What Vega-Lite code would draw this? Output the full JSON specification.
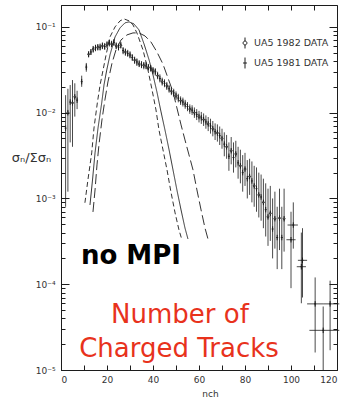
{
  "$schema": "https://vega.github.io/schema/vega-lite/v6.json",
  "width": 276,
  "height": 365,
  "autosize": "none",
  "padding": {"left": 61, "top": 5, "right": 9, "bottom": 31},
  "background": "white",
  "config": {
    "view": {"stroke": "#1c1c1c", "strokeWidth": 1},
    "axis": {
      "domainColor": "#1c1c1c",
      "tickColor": "#1c1c1c",
      "labelColor": "#333333",
      "labelFont": "DejaVu Sans",
      "labelFontSize": 9,
      "titleFont": "DejaVu Sans",
      "titleColor": "#333333",
      "titleFontWeight": "normal",
      "grid": false
    }
  },
  "datasets": {
    "curves": [
      {"curve": "a", "n": 10.4, "v": 0.00089}, {"curve": "a", "n": 11.7, "v": 0.00164}, {"curve": "a", "n": 13.35, "v": 0.0034},
      {"curve": "a", "n": 14.35, "v": 0.00664}, {"curve": "a", "n": 15.8, "v": 0.013}, {"curve": "a", "n": 17.0, "v": 0.0211},
      {"curve": "a", "n": 18.3, "v": 0.0315}, {"curve": "a", "n": 19.6, "v": 0.0472}, {"curve": "a", "n": 21.3, "v": 0.0764},
      {"curve": "a", "n": 23.5, "v": 0.1}, {"curve": "a", "n": 25.65, "v": 0.1175}, {"curve": "a", "n": 27.4, "v": 0.124},
      {"curve": "a", "n": 29.6, "v": 0.1175}, {"curve": "a", "n": 31.3, "v": 0.1055}, {"curve": "a", "n": 33.0, "v": 0.0851},
      {"curve": "a", "n": 35.65, "v": 0.0539}, {"curve": "a", "n": 37.8, "v": 0.0315}, {"curve": "a", "n": 39.6, "v": 0.0184},
      {"curve": "a", "n": 41.3, "v": 0.01076}, {"curve": "a", "n": 42.6, "v": 0.00629}, {"curve": "a", "n": 44.35, "v": 0.00368},
      {"curve": "a", "n": 46.1, "v": 0.00215}, {"curve": "a", "n": 47.8, "v": 0.00119}, {"curve": "a", "n": 49.6, "v": 0.000678},
      {"curve": "a", "n": 51.3, "v": 0.000429}, {"curve": "a", "n": 52.6, "v": 0.000328},
      {"curve": "b", "n": 12.6, "v": 0.00084}, {"curve": "b", "n": 13.7, "v": 0.00164}, {"curve": "b", "n": 14.8, "v": 0.0034},
      {"curve": "b", "n": 16.1, "v": 0.00664}, {"curve": "b", "n": 17.7, "v": 0.013}, {"curve": "b", "n": 18.7, "v": 0.0211},
      {"curve": "b", "n": 19.9, "v": 0.0315}, {"curve": "b", "n": 21.3, "v": 0.0472}, {"curve": "b", "n": 23.5, "v": 0.0764},
      {"curve": "b", "n": 25.65, "v": 0.0973}, {"curve": "b", "n": 27.8, "v": 0.1114}, {"curve": "b", "n": 29.6, "v": 0.1144},
      {"curve": "b", "n": 31.7, "v": 0.1084}, {"curve": "b", "n": 33.9, "v": 0.0923}, {"curve": "b", "n": 36.1, "v": 0.0633},
      {"curve": "b", "n": 38.3, "v": 0.0412}, {"curve": "b", "n": 40.0, "v": 0.0276}, {"curve": "b", "n": 41.7, "v": 0.01746},
      {"curve": "b", "n": 43.5, "v": 0.0102}, {"curve": "b", "n": 45.2, "v": 0.00629}, {"curve": "b", "n": 47.0, "v": 0.00368},
      {"curve": "b", "n": 48.7, "v": 0.00215}, {"curve": "b", "n": 50.4, "v": 0.001256}, {"curve": "b", "n": 52.2, "v": 0.000734},
      {"curve": "b", "n": 53.9, "v": 0.000453}, {"curve": "b", "n": 55.2, "v": 0.000337},
      {"curve": "c", "n": 13.9, "v": 0.000696}, {"curve": "c", "n": 14.8, "v": 0.001256}, {"curve": "c", "n": 15.65, "v": 0.00246},
      {"curve": "c", "n": 16.5, "v": 0.00421}, {"curve": "c", "n": 17.8, "v": 0.00823}, {"curve": "c", "n": 19.1, "v": 0.0141},
      {"curve": "c", "n": 20.4, "v": 0.0228}, {"curve": "c", "n": 22.2, "v": 0.038}, {"curve": "c", "n": 23.9, "v": 0.0539},
      {"curve": "c", "n": 26.1, "v": 0.0705}, {"curve": "c", "n": 28.7, "v": 0.0807}, {"curve": "c", "n": 31.3, "v": 0.0851},
      {"curve": "c", "n": 33.9, "v": 0.0851}, {"curve": "c", "n": 36.5, "v": 0.0785}, {"curve": "c", "n": 39.1, "v": 0.0668},
      {"curve": "c", "n": 41.7, "v": 0.0511}, {"curve": "c", "n": 44.3, "v": 0.037}, {"curve": "c", "n": 46.5, "v": 0.0254},
      {"curve": "c", "n": 48.7, "v": 0.01746}, {"curve": "c", "n": 50.4, "v": 0.01136}, {"curve": "c", "n": 52.2, "v": 0.0072},
      {"curve": "c", "n": 53.9, "v": 0.00481}, {"curve": "c", "n": 55.65, "v": 0.00322}, {"curve": "c", "n": 57.4, "v": 0.00215},
      {"curve": "c", "n": 59.1, "v": 0.001256}, {"curve": "c", "n": 60.9, "v": 0.000734}, {"curve": "c", "n": 62.6, "v": 0.000453},
      {"curve": "c", "n": 63.9, "v": 0.000337}
    ],
    "points": [
      {"set": "81", "n": 2, "v": 0.0066, "lo": 0.0008, "hi": 0.016},
      {"set": "82", "n": 3, "v": 0.010, "lo": 0.0012, "hi": 0.019},
      {"set": "81", "n": 4, "v": 0.0133, "lo": 0.0045, "hi": 0.021},
      {"set": "82", "n": 5, "v": 0.013, "lo": 0.004, "hi": 0.024},
      {"set": "82", "n": 6, "v": 0.0153, "lo": 0.009, "hi": 0.022},
      {"set": "81", "n": 7, "v": 0.014, "lo": 0.011, "hi": 0.018},
      {"set": "81", "n": 9, "v": 0.023, "lo": 0.020, "hi": 0.027},
      {"set": "81", "n": 11, "v": 0.034, "lo": 0.030, "hi": 0.038},
      {"set": "82", "n": 12, "v": 0.048, "lo": 0.044, "hi": 0.052},
      {"set": "81", "n": 13, "v": 0.051, "lo": 0.047, "hi": 0.055},
      {"set": "82", "n": 14, "v": 0.055, "lo": 0.050, "hi": 0.060},
      {"set": "81", "n": 15, "v": 0.057, "lo": 0.052, "hi": 0.062},
      {"set": "82", "n": 16, "v": 0.058, "lo": 0.053, "hi": 0.063},
      {"set": "81", "n": 17, "v": 0.058, "lo": 0.053, "hi": 0.064},
      {"set": "82", "n": 18, "v": 0.060, "lo": 0.055, "hi": 0.066},
      {"set": "81", "n": 19, "v": 0.059, "lo": 0.054, "hi": 0.065},
      {"set": "82", "n": 20, "v": 0.062, "lo": 0.057, "hi": 0.068},
      {"set": "81", "n": 21, "v": 0.065, "lo": 0.059, "hi": 0.071},
      {"set": "82", "n": 22, "v": 0.063, "lo": 0.058, "hi": 0.069},
      {"set": "81", "n": 23, "v": 0.066, "lo": 0.060, "hi": 0.072},
      {"set": "82", "n": 24, "v": 0.060, "lo": 0.055, "hi": 0.066},
      {"set": "81", "n": 25, "v": 0.058, "lo": 0.053, "hi": 0.064},
      {"set": "82", "n": 26, "v": 0.061, "lo": 0.056, "hi": 0.067},
      {"set": "81", "n": 27, "v": 0.053, "lo": 0.048, "hi": 0.058},
      {"set": "82", "n": 28, "v": 0.051, "lo": 0.046, "hi": 0.056},
      {"set": "81", "n": 29, "v": 0.049, "lo": 0.045, "hi": 0.054},
      {"set": "82", "n": 30, "v": 0.047, "lo": 0.043, "hi": 0.052},
      {"set": "81", "n": 31, "v": 0.044, "lo": 0.040, "hi": 0.048},
      {"set": "82", "n": 32, "v": 0.041, "lo": 0.037, "hi": 0.045},
      {"set": "81", "n": 33, "v": 0.039, "lo": 0.035, "hi": 0.043},
      {"set": "82", "n": 34, "v": 0.037, "lo": 0.034, "hi": 0.041},
      {"set": "81", "n": 35, "v": 0.036, "lo": 0.033, "hi": 0.040},
      {"set": "82", "n": 36, "v": 0.0356, "lo": 0.032, "hi": 0.039},
      {"set": "81", "n": 37, "v": 0.035, "lo": 0.032, "hi": 0.039},
      {"set": "82", "n": 38, "v": 0.0338, "lo": 0.031, "hi": 0.037},
      {"set": "81", "n": 39, "v": 0.033, "lo": 0.030, "hi": 0.036},
      {"set": "82", "n": 40, "v": 0.031, "lo": 0.028, "hi": 0.034},
      {"set": "81", "n": 41, "v": 0.030, "lo": 0.027, "hi": 0.033},
      {"set": "82", "n": 42, "v": 0.027, "lo": 0.0245, "hi": 0.030},
      {"set": "81", "n": 43, "v": 0.025, "lo": 0.0225, "hi": 0.028},
      {"set": "82", "n": 44, "v": 0.023, "lo": 0.0207, "hi": 0.0256},
      {"set": "81", "n": 45, "v": 0.022, "lo": 0.0198, "hi": 0.0245},
      {"set": "82", "n": 46, "v": 0.0205, "lo": 0.0184, "hi": 0.0228},
      {"set": "81", "n": 47, "v": 0.019, "lo": 0.0171, "hi": 0.0211},
      {"set": "82", "n": 48, "v": 0.0178, "lo": 0.016, "hi": 0.0198},
      {"set": "81", "n": 49, "v": 0.017, "lo": 0.0153, "hi": 0.019},
      {"set": "82", "n": 50, "v": 0.0158, "lo": 0.0141, "hi": 0.0177},
      {"set": "81", "n": 51, "v": 0.0148, "lo": 0.0132, "hi": 0.0166},
      {"set": "82", "n": 52, "v": 0.0138, "lo": 0.0123, "hi": 0.0155},
      {"set": "81", "n": 53, "v": 0.0133, "lo": 0.0118, "hi": 0.015},
      {"set": "82", "n": 54, "v": 0.0125, "lo": 0.0111, "hi": 0.0141},
      {"set": "81", "n": 55, "v": 0.0118, "lo": 0.0104, "hi": 0.0133},
      {"set": "82", "n": 56, "v": 0.011, "lo": 0.0097, "hi": 0.0125},
      {"set": "81", "n": 57, "v": 0.0107, "lo": 0.0094, "hi": 0.0122},
      {"set": "82", "n": 58, "v": 0.010, "lo": 0.0087, "hi": 0.0115},
      {"set": "81", "n": 59, "v": 0.0095, "lo": 0.0082, "hi": 0.011},
      {"set": "82", "n": 60, "v": 0.009, "lo": 0.0077, "hi": 0.0105},
      {"set": "81", "n": 61, "v": 0.0087, "lo": 0.0074, "hi": 0.0102},
      {"set": "82", "n": 62, "v": 0.0083, "lo": 0.007, "hi": 0.0098},
      {"set": "81", "n": 63, "v": 0.0078, "lo": 0.0065, "hi": 0.0093},
      {"set": "82", "n": 64, "v": 0.0074, "lo": 0.0061, "hi": 0.0089},
      {"set": "81", "n": 65, "v": 0.007, "lo": 0.0057, "hi": 0.0085},
      {"set": "82", "n": 66, "v": 0.0065, "lo": 0.0053, "hi": 0.008},
      {"set": "81", "n": 67, "v": 0.006, "lo": 0.0048, "hi": 0.0075},
      {"set": "82", "n": 68, "v": 0.0058, "lo": 0.0046, "hi": 0.0073},
      {"set": "81", "n": 69, "v": 0.0054, "lo": 0.0042, "hi": 0.0069},
      {"set": "82", "n": 70, "v": 0.005, "lo": 0.0038, "hi": 0.0065},
      {"set": "81", "n": 71, "v": 0.0043, "lo": 0.0031, "hi": 0.0059},
      {"set": "82", "n": 72, "v": 0.004, "lo": 0.0029, "hi": 0.0055},
      {"set": "81", "n": 73, "v": 0.0031, "lo": 0.0021, "hi": 0.0045},
      {"set": "82", "n": 74, "v": 0.0036, "lo": 0.0025, "hi": 0.0052},
      {"set": "81", "n": 75, "v": 0.003, "lo": 0.002, "hi": 0.0045},
      {"set": "82", "n": 76, "v": 0.0033, "lo": 0.0023, "hi": 0.0047},
      {"set": "81", "n": 77, "v": 0.0026, "lo": 0.0017, "hi": 0.004},
      {"set": "82", "n": 78, "v": 0.0024, "lo": 0.0015, "hi": 0.0037},
      {"set": "81", "n": 79, "v": 0.002, "lo": 0.0012, "hi": 0.0032},
      {"set": "82", "n": 80, "v": 0.0022, "lo": 0.0014, "hi": 0.0034},
      {"set": "81", "n": 81, "v": 0.0017, "lo": 0.001, "hi": 0.0028},
      {"set": "82", "n": 82, "v": 0.0018, "lo": 0.0011, "hi": 0.0029},
      {"set": "81", "n": 83, "v": 0.0016, "lo": 0.0009, "hi": 0.0027},
      {"set": "82", "n": 84, "v": 0.0014, "lo": 0.0008, "hi": 0.0024},
      {"set": "81", "n": 85, "v": 0.0013, "lo": 0.0007, "hi": 0.0023},
      {"set": "82", "n": 86, "v": 0.0011, "lo": 0.0006, "hi": 0.002},
      {"set": "81", "n": 87, "v": 0.00104, "lo": 0.00055, "hi": 0.0019},
      {"set": "82", "n": 88, "v": 0.0009, "lo": 0.00045, "hi": 0.0017},
      {"set": "81", "n": 89, "v": 0.00074, "lo": 0.00036, "hi": 0.0015},
      {"set": "82", "n": 90, "v": 0.00061, "lo": 0.00028, "hi": 0.0013},
      {"set": "82", "n": 91, "v": 0.00067, "lo": 0.00032, "hi": 0.0014},
      {"set": "81", "n": 92, "v": 0.00044, "lo": 0.0002, "hi": 0.001},
      {"set": "82", "n": 93, "v": 0.00058, "lo": 0.00026, "hi": 0.0012},
      {"set": "81", "n": 94, "v": 0.00035, "lo": 0.00015, "hi": 0.0008},
      {"set": "82", "n": 95, "v": 0.00059, "lo": 0.00025, "hi": 0.0013},
      {"set": "81", "n": 96, "v": 0.00035, "lo": 0.00015, "hi": 0.0008},
      {"set": "82", "n": 97, "v": 0.00058, "lo": 0.00024, "hi": 0.0013},
      {"set": "81", "n": 101, "v": 0.00049, "lo": 0.00026, "hi": 0.0009, "nlo": 98.5, "nhi": 103},
      {"set": "81", "n": 100, "v": 0.00033, "lo": 0.00009, "hi": 0.0007, "nlo": 98, "nhi": 102},
      {"set": "81", "n": 105, "v": 0.00019, "lo": 0.00007, "hi": 0.00045, "nlo": 103, "nhi": 107},
      {"set": "81", "n": 104.5, "v": 0.00016, "lo": 0.00006, "hi": 0.0004, "nlo": 102.5, "nhi": 106.5},
      {"set": "81", "n": 110.5, "v": 0.000059, "lo": 0.000016, "hi": 0.00012, "nlo": 107, "nhi": 114},
      {"set": "81", "n": 117, "v": 0.000059, "lo": 0.000017, "hi": 0.00011, "nlo": 114, "nhi": 121},
      {"set": "81", "n": 114, "v": 0.000029, "lo": 0.00001, "hi": 0.000055, "nlo": 108, "nhi": 121}
    ]
  },
  "layer": [
    {
      "data": {"name": "curves"},
      "mark": {"type": "line", "strokeWidth": 0.9, "color": "#1c1c1c"},
      "encoding": {
        "x": {
          "field": "n", "type": "quantitative",
          "scale": {"domain": [0, 120], "nice": false, "zero": false},
          "axis": {
            "orient": "bottom",
            "values": [0, 10, 20, 30, 40, 50, 60, 70, 80, 90, 100, 110, 120],
            "labelExpr": "datum.value % 20 == 0 ? datum.label : ''",
            "tickSize": -5,
            "labelPadding": 10,
            "labelFontSize": 9,
            "title": "nch",
            "titleFontSize": 9,
            "titleX": 149,
            "titleY": 19,
            "titleAnchor": "middle"
          }
        },
        "y": {
          "field": "v", "type": "quantitative",
          "scale": {"type": "log", "domain": [0.00001, 0.18], "nice": false},
          "axis": {
            "orient": "left",
            "values": [0.00001, 0.00002, 0.00003, 0.00004, 0.00005, 0.00006, 0.00007, 0.00008, 0.00009,
                       0.0001, 0.0002, 0.0003, 0.0004, 0.0005, 0.0006, 0.0007, 0.0008, 0.0009,
                       0.001, 0.002, 0.003, 0.004, 0.005, 0.006, 0.007, 0.008, 0.009,
                       0.01, 0.02, 0.03, 0.04, 0.05, 0.06, 0.07, 0.08, 0.09, 0.1],
            "labelExpr": "datum.value==0.1?'10⁻¹':datum.value==0.01?'10⁻²':datum.value==0.001?'10⁻³':datum.value==0.0001?'10⁻⁴':datum.value==0.00001?'10⁻⁵':''",
            "tickSize": {"condition": {"test": "datum.value==0.1||datum.value==0.01||datum.value==0.001||datum.value==0.0001||datum.value==0.00001", "value": -8}, "value": -4},
            "labelPadding": 14,
            "title": "σₙ/Σσₙ",
            "titleFontSize": 13,
            "titleAngle": 0,
            "titleAlign": "center",
            "titleBaseline": "middle",
            "titleX": -30,
            "titleY": 152
          }
        },
        "detail": {"field": "curve"},
        "strokeDash": {
          "field": "curve", "type": "nominal",
          "scale": {"domain": ["a", "b", "c"], "range": [[5, 3], [1, 0], [10, 4]]},
          "legend": null
        }
      }
    },
    {
      "data": {"name": "points"},
      "mark": {"type": "rule", "strokeWidth": 0.8, "color": "#1c1c1c"},
      "encoding": {
        "x": {
          "field": "n", "type": "quantitative",
          "axis": {
            "orient": "top", "labels": false, "domain": false, "title": null,
            "values": [0, 10, 20, 30, 40, 50, 60, 70, 80, 90, 100, 110, 120],
            "tickSize": -5
          }
        },
        "y": {
          "field": "lo", "type": "quantitative", "scale": {"type": "log"},
          "axis": {
            "orient": "right", "labels": false, "domain": false, "title": null,
            "values": [0.00001, 0.00002, 0.00003, 0.00004, 0.00005, 0.00006, 0.00007, 0.00008, 0.00009,
                       0.0001, 0.0002, 0.0003, 0.0004, 0.0005, 0.0006, 0.0007, 0.0008, 0.0009,
                       0.001, 0.002, 0.003, 0.004, 0.005, 0.006, 0.007, 0.008, 0.009,
                       0.01, 0.02, 0.03, 0.04, 0.05, 0.06, 0.07, 0.08, 0.09, 0.1],
            "tickSize": {"condition": {"test": "datum.value==0.1||datum.value==0.01||datum.value==0.001||datum.value==0.0001||datum.value==0.00001", "value": -8}, "value": -4}
          }
        },
        "y2": {"field": "hi"}
      }
    },
    {
      "data": {"name": "points"},
      "transform": [{"filter": "isValid(datum.nlo)"}],
      "mark": {"type": "rule", "strokeWidth": 0.8, "color": "#1c1c1c"},
      "encoding": {
        "x": {"field": "nlo", "type": "quantitative", "axis": null},
        "x2": {"field": "nhi"},
        "y": {"field": "v", "type": "quantitative", "scale": {"type": "log"}, "axis": null}
      }
    },
    {
      "data": {"name": "points"},
      "mark": {"type": "point", "filled": false, "size": 30, "strokeWidth": 1, "color": "#1c1c1c", "opacity": 1},
      "encoding": {
        "x": {"field": "n", "type": "quantitative", "axis": null},
        "y": {"field": "v", "type": "quantitative", "scale": {"type": "log"}, "axis": null},
        "shape": {
          "field": "set", "type": "nominal",
          "scale": {
            "domain": ["82", "81"],
            "range": [
              "M0,-1V-0.35M0,0.35V1M-0.35,0A0.35,0.35 0 1,1 0.35,0A0.35,0.35 0 1,1 -0.35,0",
              "M0,-1V1M-0.35,0H0.35"
            ]
          },
          "legend": {
            "orient": "none",
            "legendX": 178,
            "legendY": 32,
            "title": null,
            "padding": 0,
            "symbolSize": 120,
            "symbolStrokeColor": "#1c1c1c",
            "symbolFillColor": "transparent",
            "symbolStrokeWidth": 1,
            "labelFont": "DejaVu Sans",
            "labelFontSize": 9.5,
            "labelColor": "#333333",
            "labelOffset": 3,
            "rowPadding": 4,
            "labelExpr": "datum.label == '82' ? 'UA5 1982 DATA' : 'UA5 1981 DATA'"
          }
        }
      }
    },
    {
      "data": {"values": [{"label": "no MPI"}]},
      "mark": {"type": "text", "font": "DejaVu Sans", "fontWeight": "bold", "fontSize": 26, "color": "#000000", "align": "center", "baseline": "alphabetic"},
      "encoding": {
        "x": {"datum": 30.4, "type": "quantitative", "axis": null},
        "y": {"datum": 0.000172, "type": "quantitative", "scale": {"type": "log"}, "axis": null},
        "text": {"field": "label"}
      }
    },
    {
      "data": {"values": [{"label": "Number of"}]},
      "mark": {"type": "text", "font": "DejaVu Sans", "fontSize": 26, "color": "#e8321c", "align": "center", "baseline": "alphabetic"},
      "encoding": {
        "x": {"datum": 51.7, "type": "quantitative", "axis": null},
        "y": {"datum": 0.0000353, "type": "quantitative", "scale": {"type": "log"}, "axis": null},
        "text": {"field": "label"}
      }
    },
    {
      "data": {"values": [{"label": "Charged Tracks"}]},
      "mark": {"type": "text", "font": "DejaVu Sans", "fontSize": 26, "color": "#e8321c", "align": "center", "baseline": "alphabetic"},
      "encoding": {
        "x": {"datum": 51.3, "type": "quantitative", "axis": null},
        "y": {"datum": 0.0000143, "type": "quantitative", "scale": {"type": "log"}, "axis": null},
        "text": {"field": "label"}
      }
    }
  ],
  "resolve": {"axis": {"x": "independent", "y": "independent"}}
}
